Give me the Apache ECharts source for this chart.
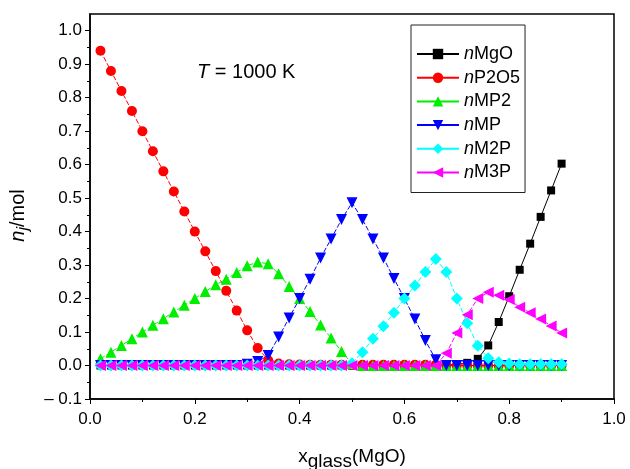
<!DOCTYPE html>
<html>
<head>
<meta charset="utf-8">
<script src="https://cdn.jsdelivr.net/npm/echarts@6/dist/echarts.min.js"></script>
<style>
  html, body { margin: 0; padding: 0; background: #fff; }
  #chart { width: 630px; height: 469px; }
</style>
</head>
<body>
<div id="chart"></div>
<script>
// x_glass(MgO), every 0.02
const xGlass = [0.02, 0.04, 0.06, 0.08, 0.10, 0.12, 0.14, 0.16, 0.18, 0.20,
  0.22, 0.24, 0.26, 0.28, 0.30, 0.32, 0.34, 0.36, 0.38, 0.40,
  0.42, 0.44, 0.46, 0.48, 0.50, 0.52, 0.54, 0.56, 0.58, 0.60,
  0.62, 0.64, 0.66, 0.68, 0.70, 0.72, 0.74, 0.76, 0.78, 0.80,
  0.82, 0.84, 0.86, 0.88, 0.90];

const nMgO = [0, 0, 0, 0, 0, 0, 0, 0, 0, 0,
  0, 0, 0, 0, 0, 0, 0, 0, 0, 0,
  0, 0, 0, 0, 0, 0, 0, 0, 0, 0,
  0, 0, 0, 0.002, 0.003, 0.008, 0.02, 0.06, 0.13, 0.207,
  0.286, 0.364, 0.444, 0.523, 0.603];

const nP2O5 = [0.94, 0.88, 0.82, 0.76, 0.70, 0.64, 0.58, 0.52, 0.46, 0.40,
  0.341, 0.282, 0.223, 0.164, 0.105, 0.052, 0.016, 0.006, 0.004, 0.003,
  0.002, 0.002, 0.002, 0.002, 0.002, 0.002, 0.002, 0.002, 0.002, 0.002,
  0.002, 0.002, 0.002, 0, 0, 0, 0, 0, 0, 0,
  0, 0, 0, 0, 0];

const nMP2 = [0.02, 0.04, 0.06, 0.08, 0.10, 0.12, 0.14, 0.16, 0.18, 0.20,
  0.221, 0.241, 0.258, 0.278, 0.298, 0.309, 0.304, 0.274, 0.236, 0.20,
  0.161, 0.121, 0.082, 0.042, 0.006, 0, 0, 0, 0, 0,
  0, 0, 0, 0, 0, 0, 0, 0, 0, 0,
  0, 0, 0, 0, 0];

const nMP = [0, 0, 0, 0, 0, 0, 0, 0, 0, 0,
  0, 0, 0, 0, 0.004, 0.012, 0.03, 0.085, 0.142, 0.20,
  0.258, 0.321, 0.378, 0.436, 0.486, 0.436, 0.378, 0.321, 0.26, 0.20,
  0.139, 0.075, 0.017, 0, 0, 0, 0, 0, 0, 0,
  0, 0, 0, 0, 0];

const nM2P = [0, 0, 0, 0, 0, 0, 0, 0, 0, 0,
  0, 0, 0, 0, 0, 0, 0, 0, 0, 0,
  0, 0, 0, 0, 0.007, 0.04, 0.08, 0.117, 0.158, 0.20,
  0.239, 0.279, 0.318, 0.279, 0.20, 0.126, 0.059, 0.022, 0.01, 0.006,
  0.004, 0.004, 0.004, 0.004, 0.004];

const nM3P = [0, 0, 0, 0, 0, 0, 0, 0, 0, 0,
  0, 0, 0, 0, 0, 0, 0, 0, 0, 0,
  0, 0, 0, 0, 0, 0, 0, 0, 0, 0,
  0, 0, 0, 0.037, 0.097, 0.152, 0.20, 0.219, 0.21, 0.197,
  0.174, 0.158, 0.139, 0.118, 0.097];

const yMajor = [-0.1, 0, 0.1, 0.2, 0.3, 0.4, 0.5, 0.6, 0.7, 0.8, 0.9, 1.0];
const yMinor = [-0.05, 0.05, 0.15, 0.25, 0.35, 0.45, 0.55, 0.65, 0.75, 0.85, 0.95];

const FONT = '"Liberation Sans", Arial, sans-serif';

function pairs(ys) {
  return xGlass.map((x, i) => [x, ys[i]]);
}

const seriesDefs = [
  {name: 'nMgO', data: nMgO, color: '#000000', symbol: 'rect', size: 8, dash: 'solid'},
  {name: 'nP2O5', data: nP2O5, color: '#ff0000', symbol: 'circle', size: 10, dash: [5, 2]},
  {name: 'nMP2', data: nMP2, color: '#00ee00', symbol: 'triangle', size: 11, dash: [5, 2]},
  {name: 'nMP', data: nMP, color: '#0000ff', symbol: 'path://M0,0 L10,0 L5,9 Z', size: 11, dash: [5, 2]},
  {name: 'nM2P', data: nM2P, color: '#00ffff', symbol: 'diamond', size: 12, dash: [5, 2]},
  {name: 'nM3P', data: nM3P, color: '#ff00ff', symbol: 'path://M9,0 L9,10 L0,5 Z', size: 11, dash: [5, 2]}
];

const chart = echarts.init(document.getElementById('chart'), null, {renderer: 'canvas'});

chart.setOption({
  animation: false,
  textStyle: {fontFamily: FONT},
  grid: {
    left: 90, right: 16, top: 14, bottom: 70,
    outerBoundsMode: 'none',
    containLabel: false,
    show: true, borderColor: '#000', borderWidth: 1.5, backgroundColor: 'transparent'
  },
  legend: {
    orient: 'vertical',
    left: 411, top: 25,
    padding: [19, 5, 10, 5],
    itemWidth: 42, itemHeight: 13, itemGap: 3.7,
    borderColor: '#222', borderWidth: 1,
    backgroundColor: '#fff',
    lineStyle: {type: 'solid'},
    data: seriesDefs.map(s => s.name),
    formatter: name => '{i|n}' + name.slice(1),
    textStyle: {
      fontSize: 18, color: '#000', fontFamily: FONT, lineHeight: 20,
      rich: {i: {fontStyle: 'italic', fontSize: 18, fontFamily: FONT, color: '#000'}}
    }
  },
  graphic: [{
    type: 'text',
    left: 197, top: 62,
    style: {
      text: '{t|T} = 1000 K',
      font: '20px ' + FONT,
      fill: '#000',
      rich: {t: {fontStyle: 'italic', fontSize: 20, fontFamily: FONT}}
    }
  }],
  xAxis: {
    type: 'value',
    min: 0, max: 1, interval: 0.2,
    name: '{x|x}{g|glass}{m|(MgO)}',
    nameLocation: 'middle',
    nameGap: 48,
    nameTextStyle: {
      rich: {
        x: {fontSize: 19, color: '#000', fontFamily: FONT, verticalAlign: 'bottom', padding: [0, 0, 5, 0]},
        g: {fontSize: 19, color: '#000', fontFamily: FONT, verticalAlign: 'bottom'},
        m: {fontSize: 19, color: '#000', fontFamily: FONT, verticalAlign: 'bottom', padding: [0, 0, 5, 0]}
      }
    },
    axisLine: {onZero: false, lineStyle: {color: '#000', width: 1.5}},
    axisTick: {inside: false, length: 5, lineStyle: {color: '#000', width: 1}},
    minorTick: {show: true, splitNumber: 2, length: 3, lineStyle: {color: '#000', width: 1}},
    splitLine: {show: false},
    axisLabel: {fontSize: 17, color: '#000', margin: 12, formatter: v => v.toFixed(1)}
  },
  yAxis: [{
    type: 'value',
    min: -0.1, max: 1.05, interval: 0.1,
    name: '{n|n}{j|j}{m|/mol}',
    nameLocation: 'middle',
    nameRotate: 90,
    nameGap: 58,
    nameTextStyle: {
      padding: [0, 18, 0, 0],
      rich: {
        n: {fontSize: 20, color: '#000', fontFamily: FONT, fontStyle: 'italic', verticalAlign: 'bottom', padding: [0, 0, 4, 0]},
        j: {fontSize: 16, color: '#000', fontFamily: FONT, fontStyle: 'italic', verticalAlign: 'bottom'},
        m: {fontSize: 20, color: '#000', fontFamily: FONT, verticalAlign: 'bottom', padding: [0, 0, 4, 0]}
      }
    },
    axisLine: {onZero: false, lineStyle: {color: '#000', width: 1.5}},
    axisTick: {inside: false, length: 5, customValues: yMajor, lineStyle: {color: '#000', width: 1}},
    splitLine: {show: false},
    axisLabel: {
      fontSize: 17, color: '#000', margin: 8,
      customValues: yMajor,
      formatter: v => v < 0 ? '\u2013 ' + Math.abs(v).toFixed(1) : v.toFixed(1)
    }
  }, {
    type: 'value',
    position: 'left',
    min: -0.1, max: 1.05,
    axisLine: {show: false},
    axisTick: {inside: false, length: 3, customValues: yMinor, lineStyle: {color: '#000', width: 1}},
    axisLabel: {show: false},
    splitLine: {show: false}
  }],
  series: seriesDefs.map(s => ({
    name: s.name,
    type: 'line',
    yAxisIndex: 0,
    data: pairs(s.data),
    symbol: s.symbol,
    symbolSize: s.size,
    showAllSymbol: true,
    color: s.color,
    itemStyle: {color: s.color},
    lineStyle: {color: s.color, width: 1, type: s.dash}
  }))
});
</script>
</body>
</html>
